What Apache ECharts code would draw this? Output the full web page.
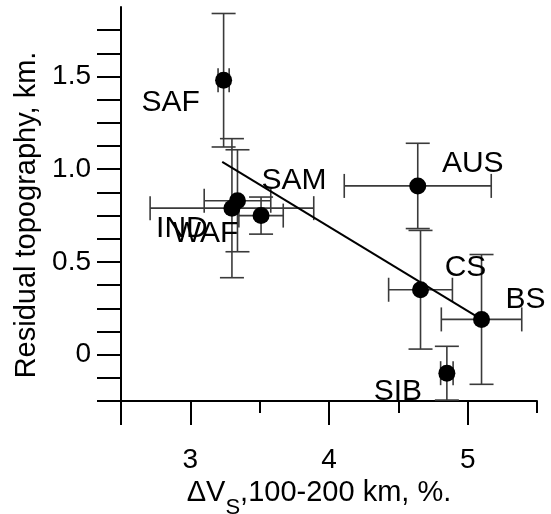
<!DOCTYPE html>
<html>
<head>
<meta charset="utf-8">
<script src="https://cdn.jsdelivr.net/npm/echarts@6/dist/echarts.min.js"></script>
<style>
  html, body { margin: 0; padding: 0; background: #fff; }
  #chart { width: 551px; height: 514px; }
</style>
</head>
<body>
<div id="chart"></div>
<script>
// regions and values
const regions = ['SAF', 'IND', 'WAF', 'SAM', 'AUS', 'CS', 'BS', 'SIB'];
const dVs = [3.24, 3.30, 3.34, 3.51, 4.64, 4.66, 5.10, 4.85];
const topo = [1.48, 0.79, 0.83, 0.75, 0.91, 0.35, 0.19, -0.10];
const dVsErr = [0.04, 0.59, 0.24, 0.16, 0.53, 0.23, 0.29, 0.045];
const topoErr = [0.36, 0.375, 0.275, 0.10, 0.23, 0.32, 0.35, 0.145];

// regression line end points
const fitX = [3.23, 5.10];
const fitY = [1.04, 0.19];

// tick labels
const xTickLabels = [3, 4, 5];
const yTickLabels = [0, 0.5, 1.0, 1.5];

// label placement relative to the dot (px)
const labelOffsets = [[-53, 22], [-50, 21], [-32, 33], [33, -35], [55, -22], [45, -22], [44, -20], [-49, 19]];

const FONT = 'Liberation Sans, Arial, sans-serif';

const yTicks = [];
for (let v = -0.25; v <= 1.751; v += 0.125) yTicks.push(+v.toFixed(3));

const chart = echarts.init(document.getElementById('chart'));

const errData = regions.map((r, i) => [dVs[i], topo[i], dVsErr[i], topoErr[i]]);

const option = {
  animation: false,
  backgroundColor: '#fff',
  grid: { left: 121, right: 14, top: 7, bottom: 113, outerBoundsMode: 'none' },
  xAxis: [{
    type: 'value',
    min: 2.5,
    max: 5.5,
    position: 'bottom',
    splitLine: { show: false },
    axisLine: { onZero: false, lineStyle: { color: '#000', width: 2 } },
    axisTick: { length: 24, customValues: [2.5].concat(xTickLabels), lineStyle: { color: '#000', width: 2 } },
    axisLabel: { customValues: xTickLabels, fontSize: 28, fontFamily: FONT, color: '#000', margin: 45 },
    name: '{d|ΔV}{s|S}{d|,100-200 km, %.}',
    nameLocation: 'middle',
    nameGap: 67,
    nameTextStyle: {
      padding: [0, 20, 0, 0],
      rich: {
        d: { fontSize: 29, fontFamily: FONT, color: '#000', lineHeight: 32 },
        s: { fontSize: 22, fontFamily: FONT, color: '#000', lineHeight: 32, verticalAlign: 'bottom', padding: [0, 0, -10, 0] }
      }
    }
  }, {
    type: 'value',
    min: 2.5,
    max: 5.5,
    position: 'bottom',
    splitLine: { show: false },
    axisLine: { show: false, onZero: false },
    axisTick: { length: 12, customValues: [3.5, 4.5, 5.5], lineStyle: { color: '#000', width: 2 } },
    axisLabel: { show: false }
  }],
  yAxis: {
    type: 'value',
    min: -0.25,
    max: 1.875,
    splitLine: { show: false },
    axisLine: { onZero: false, lineStyle: { color: '#000', width: 2 } },
    axisTick: { length: 24, customValues: yTicks, lineStyle: { color: '#000', width: 2 } },
    axisLabel: {
      customValues: yTickLabels,
      fontSize: 28, fontFamily: FONT, color: '#000', margin: 30,
      formatter: v => (v === 0 ? '0' : v.toFixed(1))
    },
    name: 'Residual topography, km.',
    nameLocation: 'middle',
    nameGap: 78,
    nameTextStyle: { fontSize: 29, fontFamily: FONT, color: '#000', padding: [0, 22, 0, 0] }
  },
  series: [{
    type: 'custom',
    data: errData,
    encode: { x: 0, y: 1 },
    z: 1,
    renderItem: (params, api) => {
      const x = api.value(0), y = api.value(1), ex = api.value(2), ey = api.value(3);
      const c = api.coord([x, y]);
      const l = api.coord([x - ex, y]), r = api.coord([x + ex, y]);
      const t = api.coord([x, y + ey]), b = api.coord([x, y - ey]);
      const cap = 12;
      const style = { stroke: '#3a3a3a', lineWidth: 1.6 };
      const seg = (x1, y1, x2, y2) => ({ type: 'line', shape: { x1, y1, x2, y2 }, style });
      return {
        type: 'group',
        children: [
          seg(l[0], c[1], r[0], c[1]),
          seg(l[0], c[1] - cap, l[0], c[1] + cap),
          seg(r[0], c[1] - cap, r[0], c[1] + cap),
          seg(c[0], t[1], c[0], b[1]),
          seg(c[0] - cap, t[1], c[0] + cap, t[1]),
          seg(c[0] - cap, b[1], c[0] + cap, b[1])
        ]
      };
    }
  }, {
    type: 'line',
    data: fitX.map((x, i) => [x, fitY[i]]),
    symbol: 'none',
    z: 2,
    lineStyle: { color: '#000', width: 2 }
  }, {
    type: 'scatter',
    z: 3,
    symbol: 'circle',
    symbolSize: 17,
    itemStyle: { color: '#000', opacity: 1 },
    data: regions.map((r, i) => ({
      name: r,
      value: [dVs[i], topo[i]],
      label: { offset: labelOffsets[i] }
    })),
    label: {
      show: true,
      position: 'inside',
      formatter: p => p.name,
      fontSize: 30,
      fontFamily: FONT,
      color: '#000'
    }
  }]
};

chart.setOption(option);
</script>
</body>
</html>
